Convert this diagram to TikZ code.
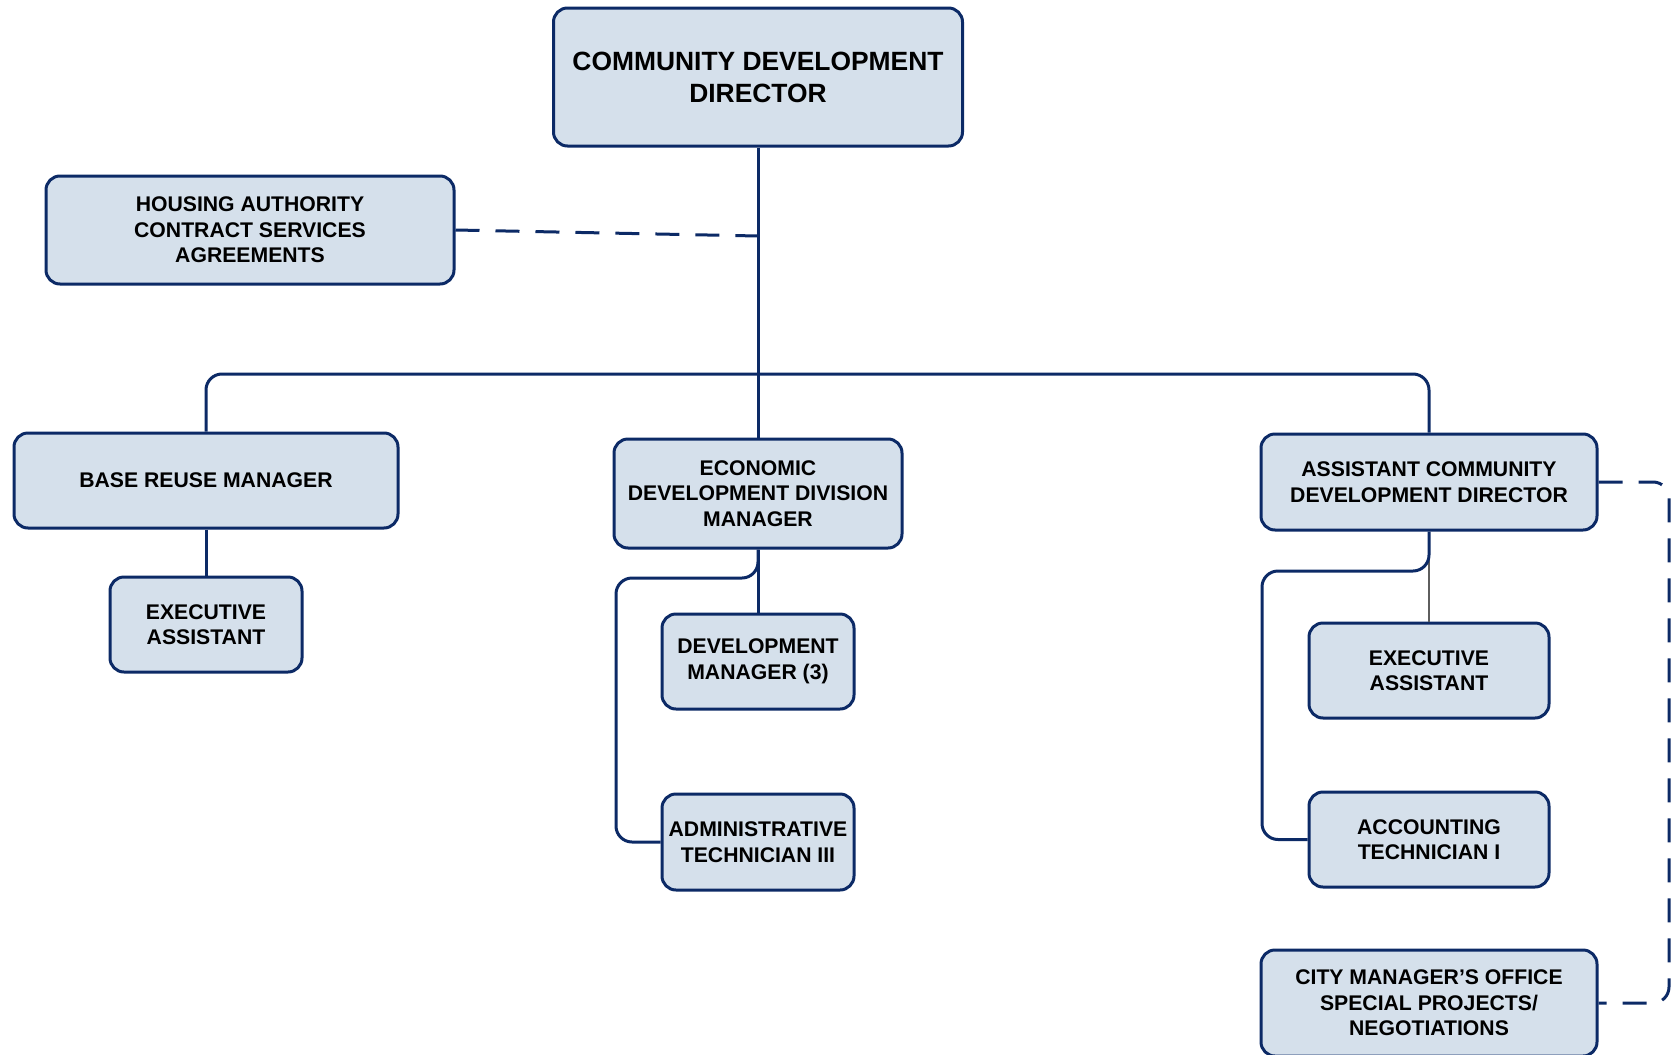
\documentclass[tikz,border=0pt]{standalone}
\usepackage{fontspec}
\setmainfont{Liberation Sans}
\usetikzlibrary{calc}
\definecolor{boxfill}{HTML}{D5E0EB}
\definecolor{boxline}{HTML}{0C2A66}
\definecolor{tiegray}{HTML}{5E5E5E}
\newcommand{\orgbox}[6][{10.6}{12.8}]{%
  \node[draw=boxline, line width=1.5pt, rounded corners=7pt, fill=boxfill,
        minimum width=#4, minimum height=#5, align=center, inner sep=0pt,
        font=\bfseries\fontsize#1\selectfont] (#2) at (#3) {#6};}
\tikzset{
  tie/.style={draw=boxline, line width=1.5pt, rounded corners=8pt},
  dashtie/.style={tie, dash pattern=on 12pt off 8pt},
  greytie/.style={draw=tiegray, line width=1pt}
}

\begin{document}
\begin{tikzpicture}[x=0.5pt, y=-0.5pt]
      \useasboundingbox (0,0) rectangle (1672,1055);
      \orgbox[{13.2}{16}]{cdd}{758,77}{204.5pt}{69pt}{COMMUNITY DEVELOPMENT\\DIRECTOR}
      \orgbox{housing}{250,230}{204pt}{54pt}{HOUSING AUTHORITY\\
        CONTRACT SERVICES\\AGREEMENTS}
      \orgbox{reuse}{206,480.5}{192pt}{47.5pt}{BASE REUSE MANAGER}
      \orgbox{execone}{206,624.5}{96pt}{47.5pt}{EXECUTIVE\\ASSISTANT}
      \orgbox{econ}{758,493.5}{144pt}{54.5pt}{ECONOMIC\\
        DEVELOPMENT DIVISION\\MANAGER}
      \orgbox{devmgr}{758,661.5}{96pt}{47.5pt}{DEVELOPMENT\\MANAGER (3)}
      \orgbox{admintech}{758,842}{96pt}{48pt}{ADMINISTRATIVE\\TECHNICIAN III}
      \orgbox{acdd}{1429,482}{168pt}{48pt}{ASSISTANT COMMUNITY\\
        DEVELOPMENT DIRECTOR}
      \orgbox{exectwo}{1429,670.5}{120pt}{47.5pt}{EXECUTIVE\\ASSISTANT}
      \orgbox{accttech}{1429,839.5}{120pt}{47.5pt}{ACCOUNTING\\TECHNICIAN I}
      \orgbox{cmo}{1429,1003}{168pt}{53pt}{CITY MANAGER’S OFFICE\\
        SPECIAL PROJECTS/\\NEGOTIATIONS}
      % bends of the connectors
      \coordinate (hjoin) at (758,236);
      \coordinate (bus) at (758,374);
      \coordinate (econturn) at (616,578);
      \coordinate (acddturn) at (1262,571);
      \coordinate (sidecol) at (1669,1003);
      \draw[tie] (cdd.south) -- (econ.north);
      \draw[tie] (reuse.north) |- (bus) -| (acdd.north);
      \draw[dashtie] (housing.east) -- (hjoin);
      \draw[tie] (reuse.south) -- (execone.north);
      \draw[tie] (econ.south) -- (devmgr.north);
      \draw[tie] (econ.south) |- (econturn) |- (admintech.west);
      \draw[greytie] (acdd.south) -- (exectwo.north);
      \draw[tie] (acdd.south) |- (acddturn) |- (accttech.west);
      \draw[dashtie] (acdd.east) -| (sidecol) -- (cmo.east);
    \end{tikzpicture}
\end{document}
